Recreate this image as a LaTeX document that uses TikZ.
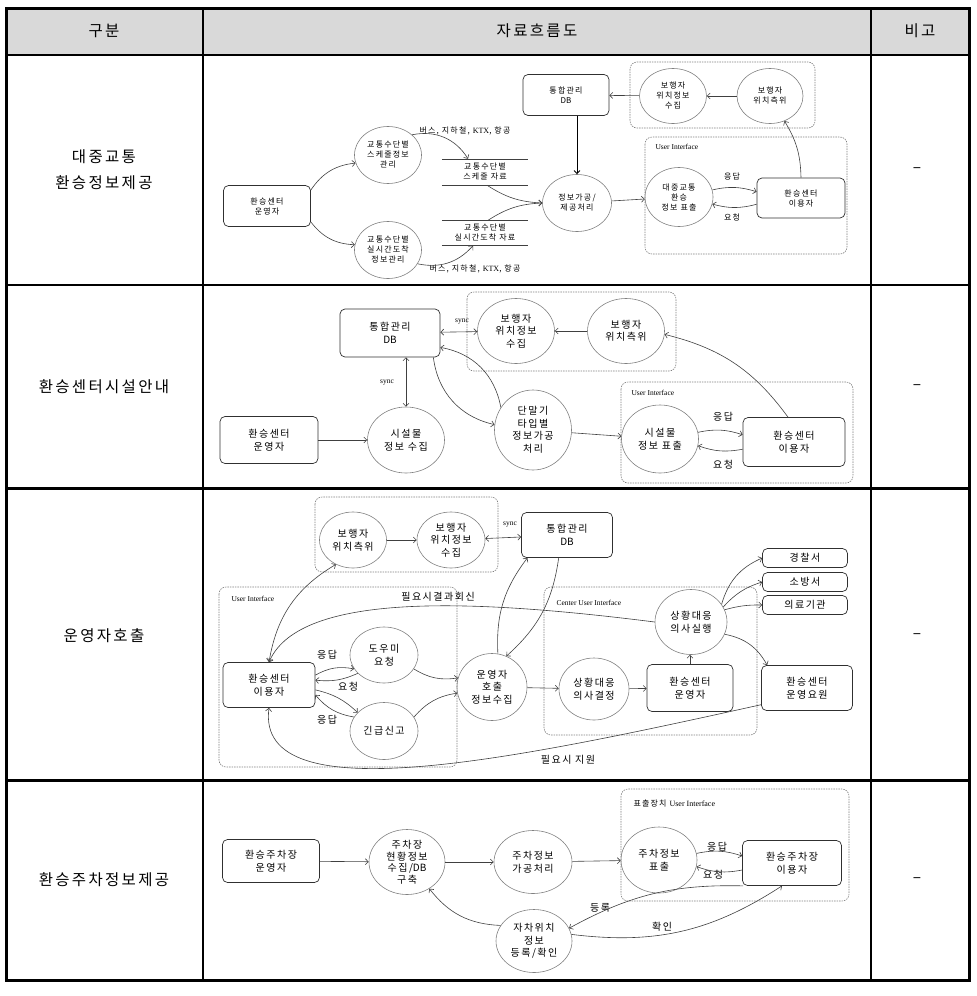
\documentclass[tikz,border=0pt]{standalone}
\usepackage{fontspec}
\setmainfont{Noto Sans CJK KR}[LetterSpace=15]
\newfontfamily\plain{Noto Sans CJK KR}
\newfontfamily\lat{Liberation Serif}
\usepackage{tikz}
\usetikzlibrary{calc,shapes.geometric,arrows.meta}
\definecolor{hdr}{HTML}{D9D9D9}
\definecolor{ink}{HTML}{303030}
\definecolor{wire}{HTML}{404040}
\definecolor{soft}{HTML}{808080}
\tikzset{
  rulethin/.style={draw=black, line width=1.3pt},
  rulebold/.style={draw=black, line width=3pt},
  proc/.style 2 args={ellipse, draw=soft, line width=0.6pt, minimum width=#1pt, minimum height=#2pt, inner sep=0pt, align=center},
  ent/.style 2 args={rectangle, rounded corners=5pt, draw=ink, line width=0.7pt, minimum width=#1pt, minimum height=#2pt, inner sep=0pt, align=center},
  store/.style={minimum width=86pt, inner sep=0pt, align=center},
  grp/.style={draw=soft, line width=0.6pt, dash pattern=on 1.5pt off 1pt, rounded corners=7pt},
  flow/.style={draw=wire, line width=0.6pt, -{Straight Barb[length=3pt,width=6pt]}},
  twoway/.style={draw=wire, line width=0.6pt, {Straight Barb[length=3pt,width=6pt]}-{Straight Barb[length=3pt,width=6pt]}},
  sm/.style={font=\fontsize{8}{10}\selectfont},
  md/.style={font=\fontsize{10}{12.5}\selectfont},
  ser/.style={font=\lat\fontsize{7.5}{9}\selectfont},
  big/.style={font=\fontsize{15.5}{26}\selectfont, align=center},
}

\begin{document}
\begin{tikzpicture}[x=1pt, y=-1pt]
  \useasboundingbox (0,0) rectangle (977,996);

  % table
  \fill[hdr] (6,8) rectangle (969,55);
  \draw[rulethin] (203,8) -- (203,980) (871,8) -- (871,980);
  \draw[rulethin] (6,55) -- (969,55) (6,285) -- (969,285);
  \draw[rulebold] (6,488) -- (969,488) (6,780) -- (969,780);
  \draw[rulebold] (6,8) rectangle (969,980);

  \node[big] (h1) at (104,31) {구분};
  \node[big] (h2) at (537,31) {자료흐름도};
  \node[big] (h3) at (920,31) {비고};

  \node[big] (r1) at (104,170) {대중교통\\환승정보제공};
  \node[big] (r2) at (104,387) {환승센터시설안내};
  \node[big] (r3) at (104,636) {운영자호출};
  \node[big] (r4) at (104,880) {환승주차정보제공};
  \node[big] (n1) at (917,170) {–};
  \node[big] (n2) at (917,387) {–};
  \node[big] (n3) at (917,636) {–};
  \node[big] (n4) at (917,880) {–};

  % row 1
  \draw[grp] (630,62) rectangle (815,128);
  \draw[grp] (645,137) rectangle (847,254);
  \node[ser, anchor=west] (ui1) at (652,147) {User Interface};
  \node[ent={87}{41}, sm] (op1) at (267,206) {환승센터\\운영자};
  \node[proc={67}{57}, sm] (sc1) at (388,155) {교통수단별\\스케줄정보\\관리};
  \node[proc={67}{57}, sm] (rt1) at (388,250) {교통수단별\\실시간도착\\정보관리};
  \node[store, minimum height=26pt, sm] (st1) at (485,172) {교통수단별\\스케줄 자료};
  \node[store, minimum height=25pt, sm] (st2) at (485,233) {교통수단별\\실시간도착 자료};
  \draw[wire, line width=0.6pt] (st1.north west) -- (st1.north east) (st1.south west) -- (st1.south east);
  \draw[wire, line width=0.6pt] (st2.north west) -- (st2.north east) (st2.south west) -- (st2.south east);
  \node[sm] (bus1) at (465,131) {버스, 지하철, {\lat KTX}, 항공};
  \node[sm] (bus2) at (475,269) {버스, 지하철, {\lat KTX}, 항공};
  \node[proc={69}{57}, sm] (pr1) at (577,203) {정보가공/\\제공처리};
  \node[ent={86}{41}, sm] (db1) at (566,95) {통합관리\\{\plain DB}};
  \node[proc={67}{55}, sm] (pc1) at (673,96) {보행자\\위치정보\\수집};
  \node[proc={66}{55}, sm] (pm1) at (770,96) {보행자\\위치측위};
  \node[proc={68}{59}, sm] (dp1) at (679,197) {대중교통\\환승\\정보 표출};
  \node[ent={88}{40}, sm] (us1) at (801,198) {환승센터\\이용자};
  \node[sm] (a1) at (732,177) {응답};
  \node[sm] (q1) at (732,217) {요청};

  \draw[flow] (op1.20) to[bend left=25] (sc1.194);
  \draw[flow] (op1.-20) to[bend right=25] (rt1.171);
  \draw[flow] (sc1.40) to[bend left=35] ($(st1.north)+(-17,0)$);
  \draw[flow] (rt1.-25) to[bend right=30] ($(st2.south)+(-12,0)$);
  \draw[flow] ($(st1.south)+(2,0)$) to[bend right=15] (pr1.west);
  \draw[flow] ($(st2.north)+(3,0)$) to[bend left=15] (pr1.west);
  \draw[flow, draw=black, line width=0.9pt] (pr1.north |- db1.south) -- (pr1.north);
  \draw[flow] (pr1) -- (dp1);
  \draw[flow] (pc1) -- (db1);
  \draw[flow] (pm1) -- (pc1);
  \draw[flow] (dp1.12) to[bend left=15] (us1.172);
  \draw[flow] (us1.188) to[bend left=15] (dp1.-12);
  \draw[flow] (us1.north) to[bend right=15] (pm1.-60);

  % row 2
  \draw[grp] (467,292) rectangle (676,371);
  \draw[grp] (621,382) rectangle (853,483);
  \node[ser, anchor=west] (ui2) at (628,393) {User Interface};
  \node[ent={100}{48}, md] (db2) at (390,333) {통합관리\\{\plain DB}};
  \node[ent={98}{47}, md] (op2) at (269,440) {환승센터\\운영자};
  \node[proc={77}{66}, md] (fc2) at (406,440) {시설물\\정보 수집};
  \node[proc={77}{65}, md] (pc2) at (516,331) {보행자\\위치정보\\수집};
  \node[proc={77}{65}, md] (pm2) at (626,331) {보행자\\위치측위};
  \node[proc={77}{80}, md] (tp2) at (533,430) {단말기\\타입별\\정보가공\\처리};
  \node[proc={77}{68}, md] (dp2) at (660,439) {시설물\\정보 표출};
  \node[ent={102}{49}, md] (us2) at (794,442) {환승센터\\이용자};
  \node[ser] (sy1) at (387,383) {sync};
  \node[ser] (sy2) at (462,322) {sync};
  \node[md] (a2) at (723,417) {응답};
  \node[md] (q2) at (723,465) {요청};

  \draw[flow] (op2) -- (fc2);
  \draw[twoway] (fc2.north |- db2.south) -- (fc2.north);
  \draw[twoway] (db2) -- (pc2);
  \draw[flow] (pm2) -- (pc2);
  \draw[flow] (tp2.145) to[bend right=35] (db2.-16);
  \draw[flow] ($(db2.south east)+(-7,0)$) to[bend right=35] (tp2.172);
  \draw[flow] (tp2) -- (dp2);
  \draw[flow] (dp2.10) to[bend left=15] (us2.172);
  \draw[flow] (us2.188) to[bend left=15] (dp2.-10);
  \draw[flow] ($(us2.north)+(-6,0)$) to[bend right=20] (pm2.-5);

  % row 3
  \draw[grp] (315,497) rectangle (498,572);
  \draw[grp] (219,587) rectangle (457,767);
  \draw[grp] (544,587) rectangle (757,735);
  \node[ser, anchor=west] (ui3) at (228,599) {User Interface};
  \node[ser, anchor=west] (ui4) at (553,603) {Center User Interface};
  \node[proc={67}{56}, md] (pm3) at (353,540) {보행자\\위치측위};
  \node[proc={68}{56}, md] (pc3) at (451,540) {보행자\\위치정보\\수집};
  \node[ent={91}{45}, md] (db3) at (567,535) {통합관리\\{\plain DB}};
  \node[ent={92}{45}, md] (us3) at (269,685) {환승센터\\이용자};
  \node[proc={68}{56}, md] (hp3) at (384,655) {도우미\\요청};
  \node[proc={68}{57}, md] (em3) at (384,731) {긴급신고};
  \node[proc={70}{67}, md] (oc3) at (492,687) {운영자\\호출\\정보수집};
  \node[proc={70}{62}, md] (dc3) at (594,689) {상황대응\\의사결정};
  \node[ent={86}{47}, md] (op3) at (690,688) {환승센터\\운영자};
  \node[proc={72}{65}, md] (ex3) at (691,622) {상황대응\\의사실행};
  \node[ent={85}{19}, md] (pol3) at (805,558) {경찰서};
  \node[ent={85}{19}, md] (fir3) at (805,582) {소방서};
  \node[ent={85}{19}, md] (med3) at (805,605) {의료기관};
  \node[ent={91}{45}, md] (st3) at (807,688) {환승센터\\운영요원};
  \node[ser] (sy3) at (510,525) {sync};
  \node[md] (a3) at (327,655) {응답};
  \node[md] (q3) at (348,687) {요청};
  \node[md] (a4) at (327,720) {응답};
  \node[md] (rb3) at (438,597) {필요시결과회신};
  \node[md] (sp3) at (568,760) {필요시 지원};

  \draw[flow] (pm3) -- (pc3);
  \draw[twoway] (pc3) -- (db3);
  \draw[twoway] (us3.north) to[bend left=25] (pm3.-125);
  \draw[flow] (us3.12) to[bend left=20] (hp3.205);
  \draw[flow] (hp3.215) to[bend left=15] (us3.6);
  \draw[flow] (us3.-6) to[bend left=15] (em3.145);
  \draw[flow] (em3.155) to[bend left=20] (us3.-12);
  \draw[flow] (hp3.-25) to[bend right=20] (oc3.165);
  \draw[flow] (em3.25) to[bend left=20] (oc3.190);
  \draw[flow] (oc3.80) to[bend left=20] (db3.-150);
  \draw[flow] (db3.-110) to[bend left=20] (oc3.65);
  \draw[flow] (oc3) -- (dc3);
  \draw[flow] (dc3) -- (op3);
  \draw[flow] (op3.north) -- (op3.north |- ex3.south);
  \draw[flow] (ex3.30) to[bend left=25] (pol3.west);
  \draw[flow] (ex3.25) to[bend left=15] (fir3.west);
  \draw[flow] (ex3.20) to[bend left=8] (med3.west);
  \draw[flow] (ex3.-20) to[bend left=25] ($(st3.north west)+(6,0)$);
  \draw[flow] (ex3.west) .. controls (480,600) and (300,590) .. (us3.north);
  \draw[flow] (st3.200) .. controls (520,758) and (255,815) .. (us3.south);

  % row 4
  \draw[grp] (621,789) rectangle (849,901);
  \node[sm, anchor=west] (ui5) at (630,803) {표출장치 {\lat User Interface}};
  \node[ent={97}{43}, md] (op4) at (271,861) {환승주차장\\운영자};
  \node[proc={76}{65}, md, font=\fontsize{10}{11.5}\selectfont] (cl4) at (407,862) {주차장\\현황정보\\수집/{\plain DB}\\구축};
  \node[proc={78}{63}, md] (pp4) at (533,862) {주차정보\\가공처리};
  \node[proc={76}{66}, md] (dp4) at (659,860) {주차정보\\표출};
  \node[ent={99}{45}, md] (us4) at (792,863) {환승주차장\\이용자};
  \node[proc={76}{63}, md] (my4) at (534,941) {자차위치\\정보\\등록/확인};
  \node[md] (a5) at (717,847) {응답};
  \node[md] (q5) at (713,875) {요청};
  \node[md] (rg4) at (600,908) {등록};
  \node[md] (ck4) at (662,927) {확인};

  \draw[flow] (op4) -- (cl4);
  \draw[flow] (cl4) -- (pp4);
  \draw[flow] (pp4) -- (dp4);
  \draw[flow] (dp4.10) to[bend left=15] (us4.172);
  \draw[flow] (us4.188) to[bend left=15] (dp4.-10);
  \draw[flow] (my4.155) to[bend left=25] (cl4.-50);
  \draw[flow] (us4.-155) to[bend right=15] (my4.20);
  \draw[flow] (my4.10) to[bend right=20] ($(us4.south)+(-10,0)$);
\end{tikzpicture}
\end{document}
